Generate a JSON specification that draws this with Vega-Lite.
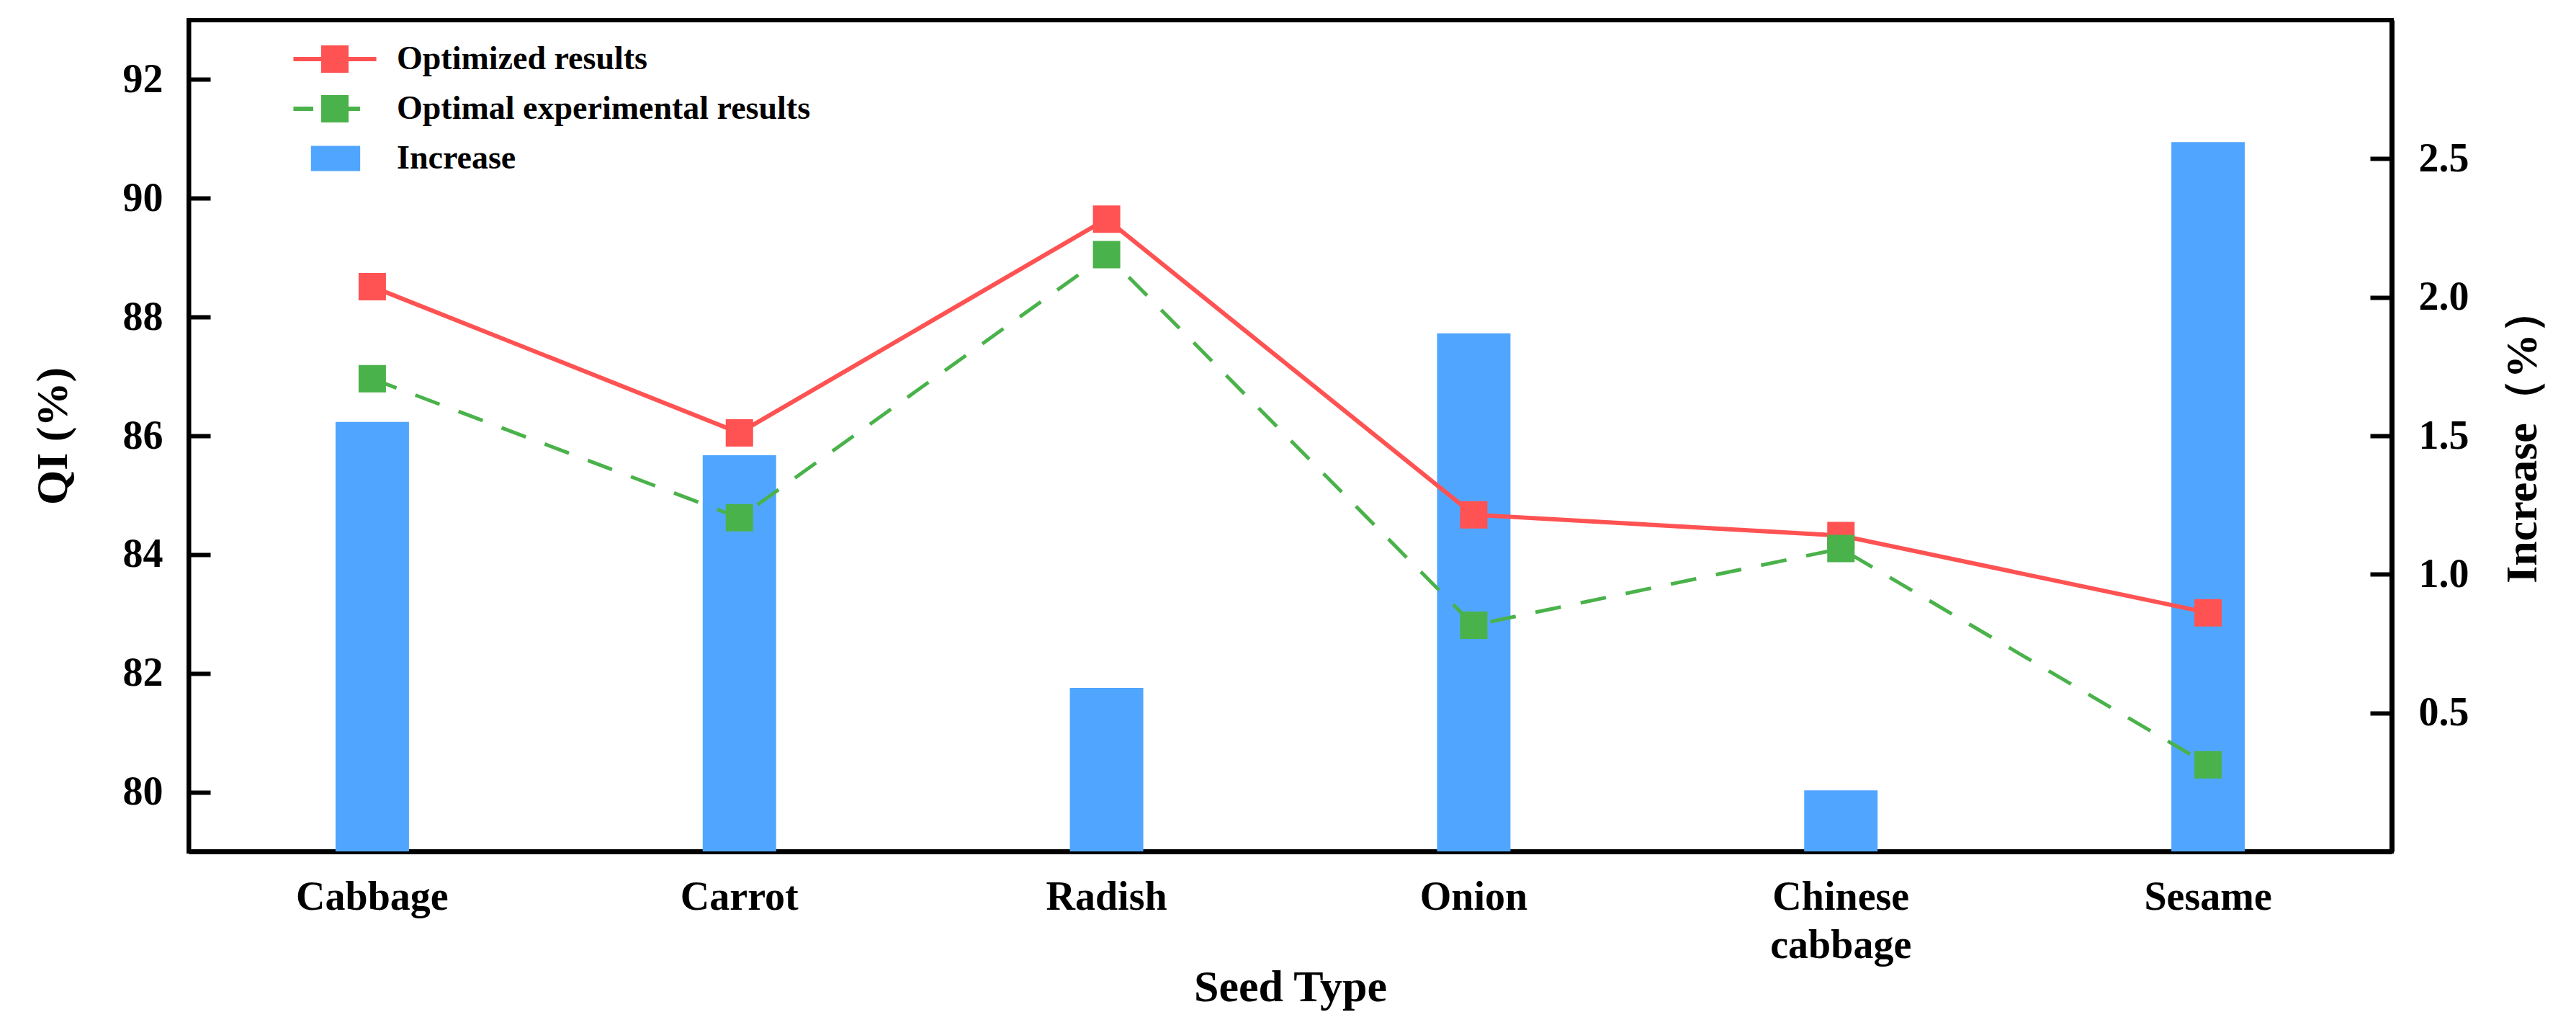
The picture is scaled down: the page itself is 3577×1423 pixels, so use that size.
{
  "$schema": "https://vega.github.io/schema/vega-lite/v6.json",
  "width": 3059,
  "height": 1154,
  "autosize": {"type": "none"},
  "padding": {"left": 262, "top": 28, "right": 256, "bottom": 241},
  "background": "white",
  "datasets": {
    "increase": [
      {"seed": "Cabbage", "increase": 1.55},
      {"seed": "Carrot", "increase": 1.43},
      {"seed": "Radish", "increase": 0.59},
      {"seed": "Onion", "increase": 1.87},
      {"seed": "Chinese cabbage", "increase": 0.22},
      {"seed": "Sesame", "increase": 2.56}
    ],
    "qi": [
      {"seed": "Cabbage", "series": "Optimized results", "qi": 88.51},
      {"seed": "Carrot", "series": "Optimized results", "qi": 86.05},
      {"seed": "Radish", "series": "Optimized results", "qi": 89.65},
      {"seed": "Onion", "series": "Optimized results", "qi": 84.67},
      {"seed": "Chinese cabbage", "series": "Optimized results", "qi": 84.32},
      {"seed": "Sesame", "series": "Optimized results", "qi": 83.02},
      {"seed": "Cabbage", "series": "Optimal experimental results", "qi": 86.96},
      {"seed": "Carrot", "series": "Optimal experimental results", "qi": 84.62},
      {"seed": "Radish", "series": "Optimal experimental results", "qi": 89.05},
      {"seed": "Onion", "series": "Optimal experimental results", "qi": 82.81},
      {"seed": "Chinese cabbage", "series": "Optimal experimental results", "qi": 84.10},
      {"seed": "Sesame", "series": "Optimal experimental results", "qi": 80.46}
    ]
  },
  "config": {
    "view": {"stroke": "black", "strokeWidth": 6},
    "font": "Liberation Serif",
    "axis": {
      "labelFont": "Liberation Serif",
      "labelFontWeight": "bold",
      "labelFontSize": 56,
      "labelColor": "black",
      "labelLimit": 0,
      "titleFont": "Liberation Serif",
      "titleFontWeight": "bold",
      "titleFontSize": 62,
      "titleColor": "black",
      "domainColor": "black",
      "domainWidth": 6,
      "tickColor": "black",
      "tickWidth": 6,
      "grid": false
    },
    "legend": {
      "labelFont": "Liberation Serif",
      "labelFontWeight": "bold",
      "labelFontSize": 46,
      "labelColor": "black",
      "labelLimit": 0
    }
  },
  "layer": [
    {
      "data": {"name": "increase"},
      "mark": {"type": "bar", "color": "#50A6FF"},
      "encoding": {
        "x": {
          "field": "seed",
          "type": "nominal",
          "sort": ["Cabbage", "Carrot", "Radish", "Onion", "Chinese cabbage", "Sesame"],
          "scale": {"paddingInner": 0.8, "paddingOuter": 0.4},
          "axis": {
            "title": "Seed Type",
            "labelAngle": 0,
            "ticks": false,
            "domainWidth": 7,
            "labelPadding": 36,
            "labelLimit": 0,
            "labelExpr": "split(datum.label, ' ')",
            "labelLineHeight": 67,
            "titlePadding": 0
          }
        },
        "y": {
          "field": "increase",
          "type": "quantitative",
          "scale": {"domain": [0, 3], "nice": false, "zero": true},
          "axis": {
            "orient": "right",
            "title": "Increase（%）",
            "values": [0.5, 1, 1.5, 2, 2.5],
            "format": ".1f",
            "tickSize": -30,
            "labelPadding": 67,
            "titleAngle": 270,
            "titleBaseline": "top",
            "titlePadding": 44,
            "domainWidth": 7
          }
        },
        "color": {
          "datum": "Increase",
          "type": "nominal",
          "scale": {
            "domain": ["Optimized results", "Optimal experimental results", "Increase"],
            "range": ["#FF5252", "#4AB24A", "#50A6FF"]
          },
          "legend": {
            "title": null,
            "orient": "none",
            "legendX": 180,
            "legendY": 31,
            "symbolSize": 1444,
            "labelOffset": 63,
            "labelLimit": 0,
            "rowPadding": 23,
            "encode": {
              "symbols": {
                "update": {
                  "shape": {"signal": "datum.value === 'Increase' ? 'M-1.75,-0.92H1.85V0.92H-1.75Z' : datum.value === 'Optimized results' ? 'M-3.03,-0.16H3.03V0.16H-3.03Z M-1,-1H1V1H-1Z' : 'M-3.03,-0.16H-1.58V0.16H-3.03Z M-1,-1H1V1H-1Z M1,-0.16H1.84V0.16H1Z'"},
                  "fill": {"signal": "datum.value === 'Increase' ? '#50A6FF' : datum.value === 'Optimized results' ? '#FF5252' : '#4AB24A'"},
                  "stroke": {"value": "transparent"},
                  "strokeWidth": {"value": 0},
                  "opacity": {"value": 1},
                  "fillOpacity": {"value": 1}
                }
              }
            }
          }
        }
      }
    },
    {
      "data": {"name": "qi"},
      "encoding": {
        "x": {
          "field": "seed",
          "type": "nominal",
          "sort": ["Cabbage", "Carrot", "Radish", "Onion", "Chinese cabbage", "Sesame"]
        },
        "y": {
          "field": "qi",
          "type": "quantitative",
          "scale": {"domain": [79, 93], "nice": false, "zero": false},
          "axis": {
            "orient": "left",
            "title": "QI (%)",
            "values": [80, 82, 84, 86, 88, 90, 92],
            "tickSize": -30,
            "labelPadding": 66,
            "titlePadding": 65
          }
        },
        "color": {
          "field": "series",
          "type": "nominal",
          "legend": {
            "title": null,
            "orient": "none",
            "legendX": 180,
            "legendY": 31,
            "symbolSize": 1444,
            "labelOffset": 63,
            "labelLimit": 0,
            "rowPadding": 23
          }
        }
      },
      "layer": [
        {
          "transform": [{"filter": "datum.series === 'Optimized results'"}],
          "mark": {
            "type": "line",
            "strokeWidth": 6,
            "point": {"filled": true, "shape": "square", "size": 1444, "opacity": 1}
          }
        },
        {
          "transform": [{"filter": "datum.series === 'Optimal experimental results'"}],
          "mark": {
            "type": "line",
            "strokeWidth": 5,
            "strokeDash": [36, 28],
            "point": {"filled": true, "shape": "square", "size": 1444, "opacity": 1}
          }
        }
      ]
    }
  ],
  "resolve": {"scale": {"y": "independent"}}
}
